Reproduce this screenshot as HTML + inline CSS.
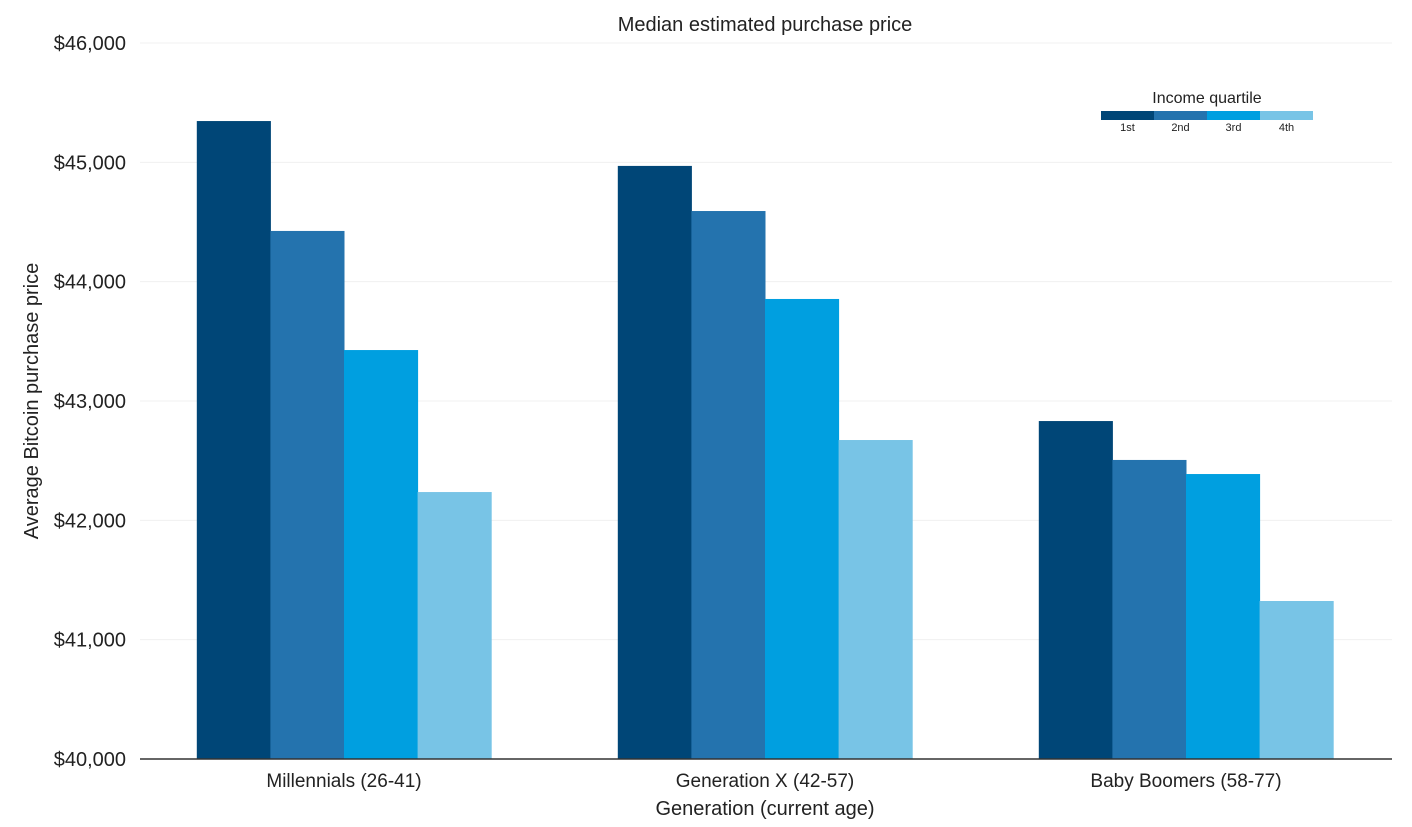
<!DOCTYPE html>
<html><head><meta charset="utf-8"><style>
html,body{margin:0;padding:0;background:#fff;}
svg text{font-family:"Liberation Sans",sans-serif;fill:#222;}
</style></head><body>
<svg id="chart" width="1412" height="822" viewBox="0 0 1412 822" xmlns="http://www.w3.org/2000/svg">
<text x="765" y="31" font-size="20" text-anchor="middle">Median estimated purchase price</text>
<g id="grid"></g>
<g id="bars"></g>
<line x1="140" x2="1392" y1="759" y2="759" stroke="#333" stroke-width="1.5"/>
<g id="xlabels"></g>
<g id="ylabels"></g>
<text x="765" y="815" font-size="20" text-anchor="middle">Generation (current age)</text>
<text transform="translate(38,401) rotate(-90)" font-size="20" text-anchor="middle">Average Bitcoin purchase price</text>
<g id="legend">
<text x="1207" y="103" font-size="16" text-anchor="middle">Income quartile</text>
</g>
</svg>
<script>
const categories=["Millennials (26-41)","Generation X (42-57)","Baby Boomers (58-77)"];
const seriesNames=["1st","2nd","3rd","4th"];
const q1=[45346,44970,42832];
const q2=[44425,44592,42506];
const q3=[43427,43855,42388];
const q4=[42237,42673,41324];
const yTicks=[40000,41000,42000,43000,44000,45000,46000];
const colors=["#004677","#2473ae","#009fe0","#78c4e6"];
const series=[q1,q2,q3,q4];
const NS="http://www.w3.org/2000/svg";
const y=v=>759-(v-40000)/6000*716;
const band=421, x0=133.5, barW=73.6;
const xc=i=>x0+band*(i+0.5);
function mk(t,a,p){const e=document.createElementNS(NS,t);for(const k in a)e.setAttribute(k,a[k]);p.appendChild(e);return e;}
const grid=document.getElementById('grid'),yl=document.getElementById('ylabels');
yTicks.forEach(v=>{
 if(v>40000){const l=mk('line',{x1:140,x2:1392,y1:y(v),y2:y(v),stroke:'#f0f0f0','stroke-width':1},grid);
 
 }
 const t=mk('text',{x:126,y:y(v)+7,'font-size':20,'text-anchor':'end'},yl);
 t.textContent='$'+v.toLocaleString('en-US');
 
 
});
const bars=document.getElementById('bars'),xl=document.getElementById('xlabels');
categories.forEach((c,i)=>{
 series.forEach((s,j)=>{
  const r=mk('rect',{x:xc(i)-2*barW+j*barW,y:y(s[i]),width:barW+0.5,height:759-y(s[i]),fill:colors[j]},bars);
  
  
 });
 const t=mk('text',{x:xc(i),y:787,'font-size':19,'text-anchor':'middle'},xl);
 t.textContent=c;
 
 
});
const lg=document.getElementById('legend');
seriesNames.forEach((n,j)=>{
 const r=mk('rect',{x:1101+j*53,y:111,width:53,height:9,fill:colors[j]},lg);
 
 
 const t=mk('text',{x:1127.5+j*53,y:131,'font-size':11,'text-anchor':'middle'},lg);
 t.textContent=n;
 
 
});
</script>
</body></html>
